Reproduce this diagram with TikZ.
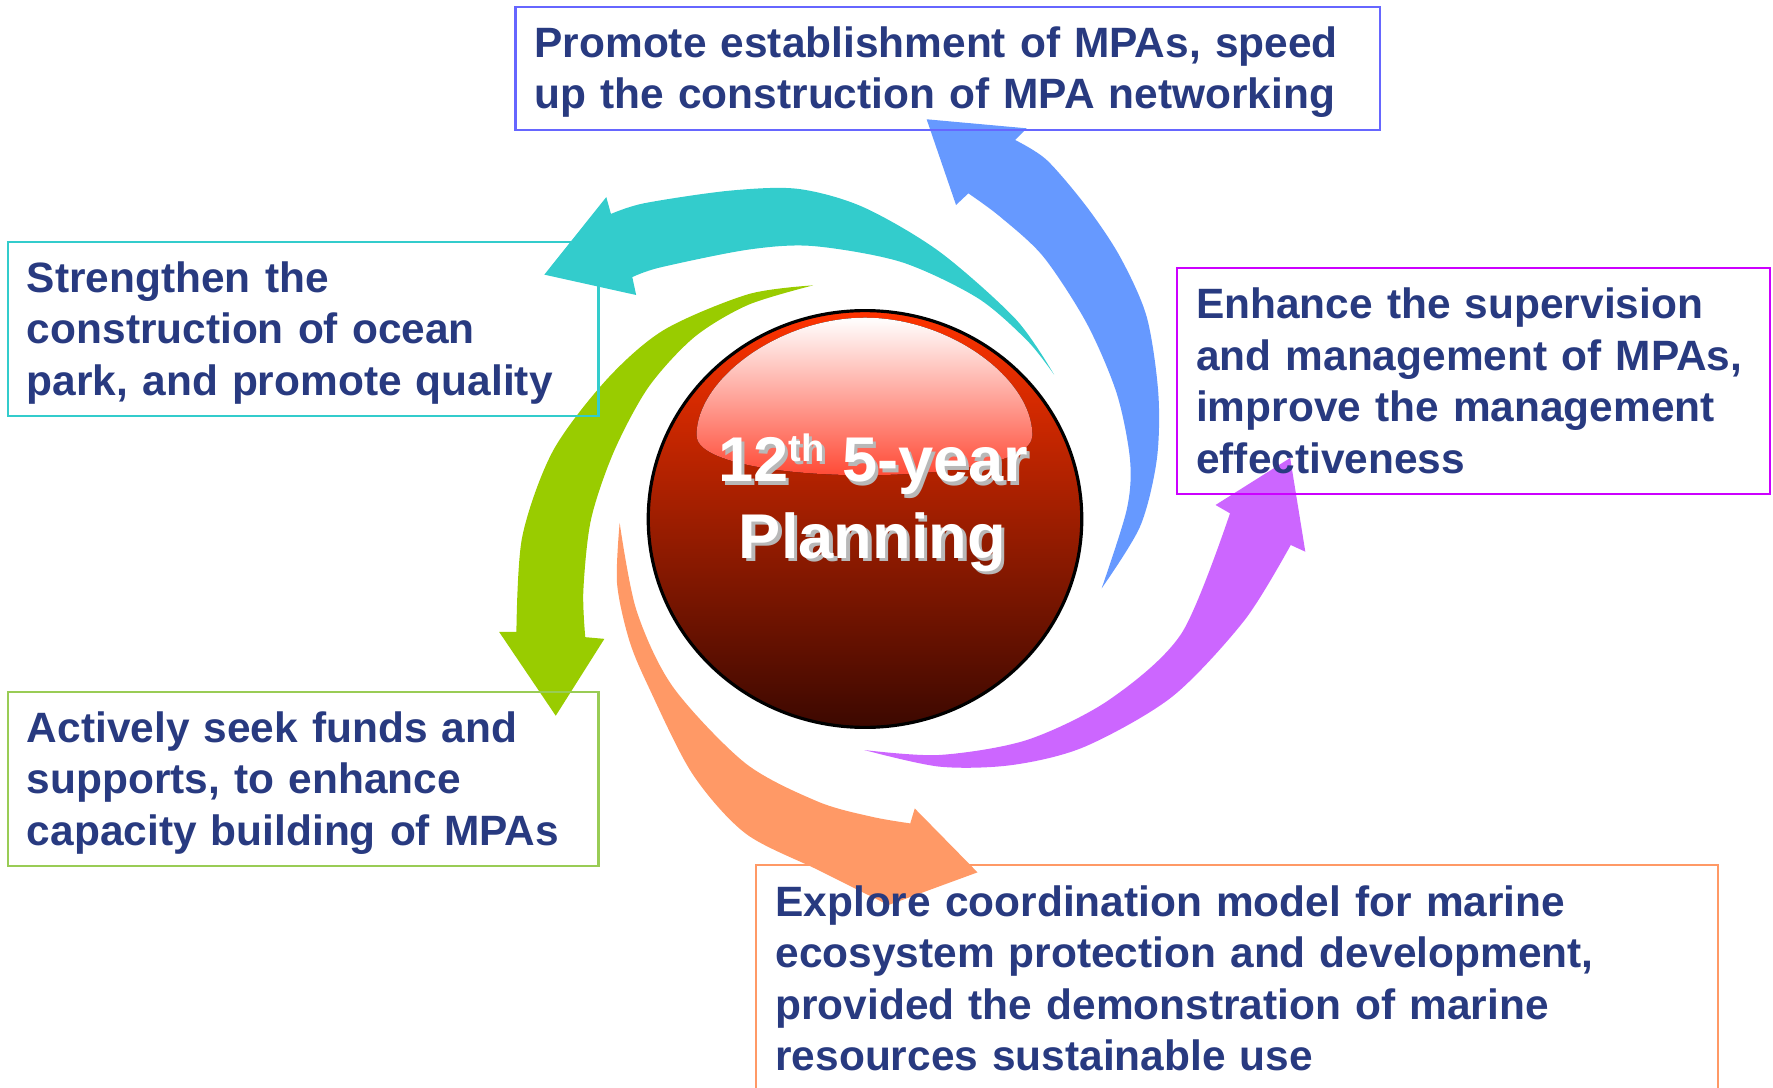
\documentclass[tikz,border=0pt]{standalone}
\usepackage{fontspec}
\setmainfont{Liberation Sans}
\definecolor{navytext}{HTML}{283A80}
\definecolor{tealarrow}{HTML}{33CCCC}
\definecolor{bluearrow}{HTML}{6699FF}
\definecolor{violetarrow}{HTML}{CC66FF}
\definecolor{orangearrow}{HTML}{FF9966}
\definecolor{greenarrow}{HTML}{99CC00}
\definecolor{bluebox}{HTML}{6666FF}
\definecolor{violetbox}{HTML}{CC00FF}
\definecolor{greenbox}{HTML}{99CC55}
\definecolor{globetop}{HTML}{FF3300}
\definecolor{globemid}{HTML}{C82800}
\definecolor{globebot}{HTML}{3C0800}
\definecolor{glossred}{HTML}{FF3B25}
\definecolor{glosspink}{HTML}{FFB0AA}
\begin{document}
\begin{tikzpicture}[x=0.01cm, y=-0.01cm,
    goal/.style={draw, line width=0.6pt, rectangle, inner xsep=0.17cm, inner ysep=0pt,
      align=left, text=navytext, font=\bfseries\fontsize{10.67}{12.95}\selectfont,
      execute at begin node={\rule{0pt}{0.34cm}}, execute at end node={\rule[-0.08cm]{0pt}{0.08cm}}},
    title/.style={anchor=base, text=white, inner sep=0pt, font=\bfseries\fontsize{15.9}{19}\selectfont},
    titleshadow/.style={title, text=black!28}]
        \useasboundingbox (0,0) rectangle (1568,962.2);
        % swirl of arrows
        \fill [tealarrow] plot [smooth] coordinates {(932.2,331.3) (898.4,282.4) (830.6,222.4) (763,183) (705.4,167) (644.6,168.7) (570,179.7) (540.3,189.2)}
          -- (536.2,174.3) -- (481.4,242.9) -- (562.6,260.9) -- (559.2,245.1)
          -- plot [smooth] coordinates {(559.2,245.1) (583.6,236.6) (661.5,220.8) (719,217.6) (797,231.7) (864.5,263.5) (908.5,301.3) (932.2,331.3)} -- cycle;
        \fill [bluearrow] plot [smooth] coordinates {(974.3,520.3) (1008.2,465.8) (1023,406.8) (1024.4,347.9) (1014.1,280.1) (990.5,227) (961,182.8) (925.7,141.5) (897.7,123.8)}
          -- (908,113.5) -- (819.5,105.5) -- (845.5,181.3) -- (856.4,171)
          -- plot [smooth] coordinates {(856.4,171) (884.4,191.6) (922.7,227) (961.1,286) (987.6,347.9) (999.4,406.8) (996.4,451) (974.3,520.3)} -- cycle;
        \fill [violetarrow] plot [smooth] coordinates {(764.3,663.3) (830.7,678) (895,676.6) (959.3,660.4) (1036.6,616.2) (1100.8,548.3) (1141.5,482)}
          -- (1154.4,487.9) -- (1141,405) -- (1075,446.6) -- (1087.8,454)
          -- plot [smooth] coordinates {(1087.8,454) (1045,560) (980.8,619) (908,654.5) (830.7,667.7) (764.3,663.3)} -- cycle;
        \fill [orangearrow] plot [smooth] coordinates {(548,462.4) (545.7,515.9) (556.4,566) (573.5,607.3) (612.1,684) (659.2,737) (723.5,769.4) (785.7,800.4)}
          -- (864.5,771.5) -- (809,715) -- (805,728.2)
          -- plot [smooth] coordinates {(805,728.2) (770.8,722.3) (723.5,709) (659.2,675) (595,607.3) (562.8,539.5) (548,462.4)} -- cycle;
        \fill [greenarrow] plot [smooth] coordinates {(719,252.4) (661.4,260.3) (587,291.9) (536.2,336) (488.8,399.2) (461.8,475) (456.7,558.8)}
          -- (441.4,558.8) -- (491.5,633) -- (534.5,565) -- (517.6,563.5)
          -- plot [smooth] coordinates {(517.6,563.5) (515.9,522.4) (522.7,459.3) (543,399.2) (573.5,342.4) (614,298.2) (661.5,269.7) (719,252.4)} -- cycle;
        % the red globe
        \draw [line width=0.8pt, top color=globetop, middle color=globemid, bottom color=globebot] (765,459) ellipse [x radius=1.916cm, y radius=1.842cm];
        \fill [top color=white, middle color=glosspink, bottom color=glossred] (616,385) .. controls (616,335) and (690,281) .. (765,281)
          .. controls (840,281) and (913,335) .. (913,385) .. controls (913,432) and (616,432) .. (616,385);
        \node [titleshadow] (line1s) at (775,429) {12\raisebox{0.32em}{\fontsize{9.6}{10}\selectfont th} 5-year};
        \node [titleshadow] (line2s) at (774.5,496.5) {Planning};
        \node [title] (line1) at (772.5,426) {12\raisebox{0.32em}{\fontsize{9.6}{10}\selectfont th} 5-year};
        \node [title] (line2) at (771.5,493.5) {Planning};
        % goals
        \node [goal, draw=bluebox, minimum width=7.64cm, minimum height=1.09cm, text width=7.30cm] (promote) at (838,60.5)
          {Promote establishment of MPAs, speed\\up the construction of MPA networking};
        \node [goal, draw=tealarrow, minimum width=5.22cm, minimum height=1.54cm, text width=4.88cm] (park) at (268,291)
          {Strengthen the\\construction of ocean\\park, and promote quality};
        \node [goal, draw=violetbox, minimum width=5.24cm, minimum height=2.00cm, text width=4.90cm] (supervise) at (1303,337)
          {Enhance the supervision\\and management of MPAs,\\improve the management\\effectiveness};
        \node [goal, draw=greenbox, minimum width=5.22cm, minimum height=1.54cm, text width=4.88cm] (funds) at (268,689)
          {Actively seek funds and\\supports, to enhance\\capacity building of MPAs};
        \node [goal, draw=orangearrow, minimum width=8.50cm, minimum height=2.01cm, text width=8.16cm] (explore) at (1094,865.5)
          {Explore coordination model for marine\\ecosystem protection and development,\\provided the demonstration of marine\\resources sustainable use};
\end{tikzpicture}
\end{document}
